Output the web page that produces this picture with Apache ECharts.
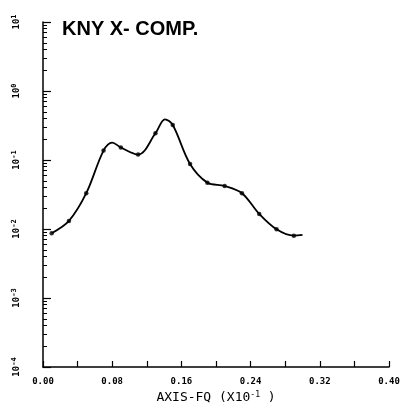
<!DOCTYPE html>
<html>
<head>
<meta charset="utf-8">
<script src="https://cdn.jsdelivr.net/npm/echarts@6/dist/echarts.min.js"></script>
<style>
  html, body { margin: 0; padding: 0; background: #fff; }
  #chart { width: 405px; height: 410px; }
</style>
</head>
<body>
<div id="chart"></div>
<script>
// measured points (dots on the curve)
var dotFq = [0.01, 0.03, 0.05, 0.07, 0.09, 0.11, 0.13, 0.15, 0.17, 0.19, 0.21, 0.23, 0.25, 0.27, 0.29];
var dotVal = [0.0087, 0.0131, 0.033, 0.137, 0.152, 0.120, 0.244, 0.321, 0.0875, 0.047, 0.042, 0.033, 0.0165, 0.0099, 0.0080];
// curve peaks between dots and the line end (no dot drawn)
var peakFq = [0.08, 0.141, 0.30];
var peakVal = [0.179, 0.389, 0.0082];

// line goes through dots + peaks, sorted by frequency
var linePts = [];
dotFq.forEach(function (f, i) { linePts.push([f, dotVal[i]]); });
peakFq.forEach(function (f, i) { linePts.push([f, peakVal[i]]); });
linePts.sort(function (a, b) { return a[0] - b[0]; });

var chart = echarts.init(document.getElementById('chart'));
chart.setOption({
  animation: false,
  title: {
    text: 'KNY X- COMP.',
    left: 57, top: 14,
    textStyle: { fontFamily: 'Liberation Sans', fontSize: 20, fontWeight: 'bold', color: '#000' }
  },
  grid: { left: 43, right: 16, top: 22, bottom: 43 },
  xAxis: {
    type: 'value', min: 0, max: 0.40, interval: 0.04,
    name: 'AXIS-FQ (X10{s|-1} )',
    nameLocation: 'middle', nameGap: 24,
    nameTextStyle: {
      fontFamily: 'DejaVu Sans Mono', fontSize: 13, color: '#000',
      rich: { s: { fontSize: 8, verticalAlign: 'top', fontFamily: 'DejaVu Sans Mono', padding: [0, 0, 6, 0] } }
    },
    axisLine: { lineStyle: { color: '#000', width: 1.5 } },
    axisTick: { inside: true, length: 6, lineStyle: { color: '#000', width: 1.2 } },
    splitLine: { show: false },
    axisLabel: {
      margin: 10, fontFamily: 'DejaVu Sans Mono', fontSize: 9, fontWeight: 'bold', color: '#000',
      formatter: function (v) {
        var r = Math.round(v * 100);
        return r % 8 === 0 ? v.toFixed(2) : '';
      }
    }
  },
  yAxis: {
    type: 'log', min: 1e-4, max: 10, logBase: 10,
    axisLine: { show: true, lineStyle: { color: '#000', width: 1.5 } },
    axisTick: { inside: true, length: 8, lineStyle: { color: '#000', width: 1.2 } },
    minorTick: { show: true, splitNumber: 9, length: 4, lineStyle: { color: '#000' } },
    splitLine: { show: false },
    axisLabel: {
      rotate: 90, margin: 20, color: '#000',
      fontFamily: 'DejaVu Sans Mono', fontSize: 9, fontWeight: 'bold',
      formatter: function (v) {
        var e = Math.round(Math.log10(v));
        return '10{s|' + e + '}';
      },
      rich: { s: { fontSize: 7, fontWeight: 'bold', fontFamily: 'DejaVu Sans Mono', padding: [0, 0, 5, 0] } }
    }
  },
  series: [
    {
      type: 'line', data: linePts, smooth: 0.35, showSymbol: false,
      lineStyle: { color: '#000', width: 1.8 }
    },
    {
      type: 'scatter',
      data: dotFq.map(function (f, i) { return [f, dotVal[i]]; }),
      symbolSize: 4.5, itemStyle: { color: '#000' }
    }
  ]
});
</script>
</body>
</html>
